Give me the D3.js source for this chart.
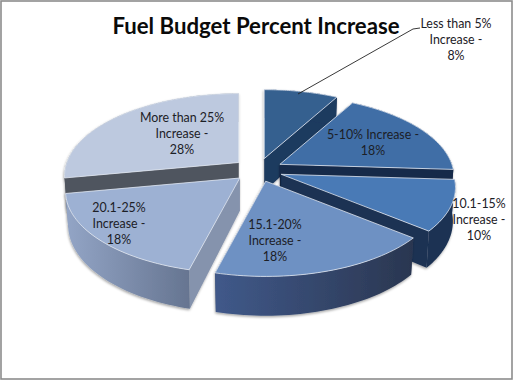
<!DOCTYPE html>
<html>
<head>
<meta charset="utf-8">
<script src="https://cdn.jsdelivr.net/npm/d3@7"></script>
<style>
  html, body { margin: 0; padding: 0; background: #fff; }
  svg { display: block; }
  text { font-family: Lato, "Open Sans", sans-serif; fill: #1c2026; }
</style>
</head>
<body>
<svg width="513" height="380"></svg>
<script>
const categories = ['Less than 5%', '5-10%', '10.1-15%', '15.1-20%', '20.1-25%', 'More than 25%'];
const percents = [8, 18, 10, 18, 18, 28];
const labelLines = [
    ['Less than 5%', 'Increase -', '8%'],
    ['5-10% Increase -', '18%'],
    ['10.1-15%', 'Increase -', '10%'],
    ['15.1-20%', 'Increase -', '18%'],
    ['20.1-25%', 'Increase -', '18%'],
    ['More than 25%', 'Increase -', '28%']
];

// styling, same order as categories
const topColors = ['#36608f', '#3f6ea6', '#4a7ab6', '#6e91c3', '#9db1d3', '#bdc9df'];
const wallColors = ['#1f3a5f', '#17294a', '#1a3052', '#2f3f5e', '#8593ad', '#50555f'];
const arcGradients = [null, null, null, ['#40598a', '#2a3650'], ['#93a5c6', '#667591'], null];
const labelSpots = [[456, 24], [373, 135], [479, 204], [275, 225], [119, 208], [182, 118]];

const svg = d3.select('svg');
const defs = svg.append('defs');

// soft grey edge under the pie
const shadow = defs.append('filter').attr('id', 'shadow')
    .attr('x', '-10%').attr('y', '-10%').attr('width', '120%').attr('height', '120%');
shadow.append('feDropShadow')
    .attr('dx', -0.5).attr('dy', 1.5).attr('stdDeviation', 1)
    .attr('flood-color', '#000').attr('flood-opacity', 0.35);

// frame
svg.append('rect').attr('x', 1).attr('y', 1).attr('width', 511).attr('height', 378)
    .attr('fill', '#fff').attr('stroke', '#8c8c8c').attr('stroke-width', 1.6);

svg.append('text').attr('x', 256).attr('y', 34)
    .attr('text-anchor', 'middle')
    .style('font-size', '22.2px').style('font-weight', 700).style('fill', '#0a0a0a')
    .text('Fuel Budget Percent Increase');

// pie geometry
const cx = 258, cy = 170;
const radius = 172, flat = 80, persp = 0.16, depth = 33, explode = 25;

const pie = d3.pie().sort(null).value(d => d);
const slices = pie(percents);

function project(a, apex, drop) {
    const back = Math.cos(a);
    const p = 1 / (1 + persp * back);
    const d = drop ? depth * p : 0;
    const shrink = drop ? 0.985 : 1;
    return [
        apex[0] + Math.sin(a) * radius * p * shrink,
        apex[1] - back * flat * p + d
    ];
}

const line = d3.line();
const closed = pts => line(pts) + 'Z';

// back slices first so the front ones cover them
const drawOrder = [0, 5, 1, 2, 4, 3];

drawOrder.forEach(i => {
    const s = slices[i];
    const mid = (s.startAngle + s.endAngle) / 2;
    const apex = [cx + Math.sin(mid) * explode, cy - Math.cos(mid) * explode * 0.47];
    const steps = d3.range(0, 41).map(k => s.startAngle + (s.endAngle - s.startAngle) * k / 40);

    const g = svg.append('g').attr('filter', 'url(#shadow)');

    const arcTop = steps.map(a => project(a, apex, false));
    const arcBottom = steps.map(a => project(a, apex, true));
    const apexBottom = [apex[0], apex[1] + depth];

    // radial walls
    g.append('path').attr('fill', wallColors[i])
        .attr('d', closed([apex, arcTop[0], arcBottom[0], apexBottom]));
    g.append('path').attr('fill', wallColors[i])
        .attr('d', closed([apex, arcTop[40], arcBottom[40], apexBottom]));

    // outer wall
    let wallFill = wallColors[i];
    if (arcGradients[i]) {
        const xs = arcTop.map(p => p[0]);
        const grad = defs.append('linearGradient').attr('id', 'wall' + i)
            .attr('gradientUnits', 'userSpaceOnUse')
            .attr('x1', d3.min(xs)).attr('x2', d3.max(xs)).attr('y1', 0).attr('y2', 0);
        grad.append('stop').attr('offset', 0).attr('stop-color', arcGradients[i][0]);
        grad.append('stop').attr('offset', 1).attr('stop-color', arcGradients[i][1]);
        wallFill = 'url(#wall' + i + ')';
    }
    g.append('path').attr('fill', wallFill)
        .attr('d', closed(arcTop.concat(arcBottom.slice().reverse())));

    // top face
    g.append('path').attr('fill', topColors[i])
        .attr('stroke', '#dfe6f0').attr('stroke-width', 0.8).attr('stroke-linejoin', 'round')
        .attr('d', closed([apex].concat(arcTop)));
});

// leader for the small slice
svg.append('path').attr('fill', 'none').attr('stroke', '#222').attr('stroke-width', 0.9)
    .attr('d', line([[298, 94], [413, 29], [420, 28]]));

labelLines.forEach((lines, i) => {
    const t = svg.append('text').attr('text-anchor', 'middle').style('font-size', '12.4px');
    lines.forEach((str, k) => {
        t.append('tspan')
            .attr('x', labelSpots[i][0])
            .attr('y', labelSpots[i][1] + k * 16 + 4)
            .text(str);
    });
});
</script>
</body>
</html>
